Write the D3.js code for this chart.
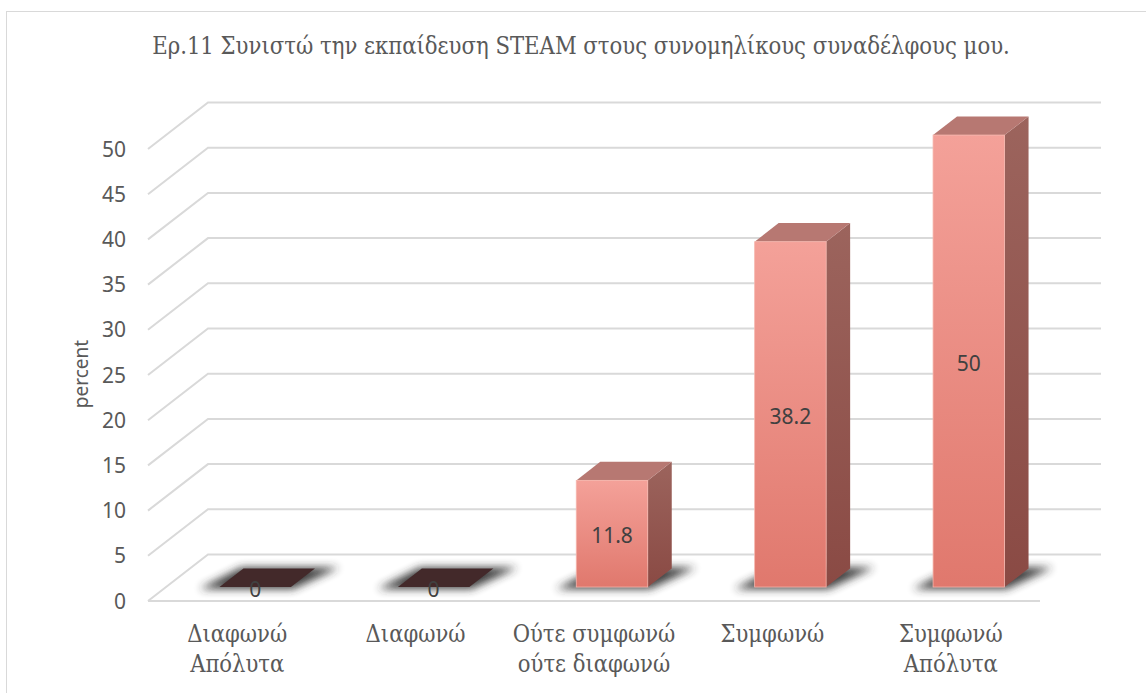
<!DOCTYPE html>
<html>
<head>
<meta charset="utf-8">
<script src="https://cdn.jsdelivr.net/npm/d3@7"></script>
<style>
  html, body { margin: 0; padding: 0; background: #ffffff; }
  svg { display: block; }
</style>
</head>
<body>
<div id="chart"></div>
<script>
// Survey item Ερ.11 — share of respondents per answer (percent)
const titleText = "Ερ.11 Συνιστώ την εκπαίδευση STEAM στους συνομηλίκους συναδέλφους μου.";
const categories = ["Διαφωνώ\nΑπόλυτα", "Διαφωνώ", "Ούτε συμφωνώ\nούτε διαφωνώ", "Συμφωνώ", "Συμφωνώ\nΑπόλυτα"];
const values = [0, 0, 11.8, 38.2, 50];
const yTicks = [0, 5, 10, 15, 20, 25, 30, 35, 40, 45, 50];
const yTitle = "percent";

const W = 1146, H = 693;
const serif = "'DejaVu Serif Condensed', 'DejaVu Serif', 'Liberation Serif', serif";
const sans = "'Noto Sans', 'Open Sans', sans-serif";
const svg = d3.select("#chart").append("svg").attr("width", W).attr("height", H);
const defs = svg.append("defs");

// Oblique projection: the floor recedes up and to the right
const depth = { dx: 60, dy: -46.5 };
const barDepthStart = 0.3, barDepthSize = 0.4;

const y = d3.scaleLinear().domain([0, 50]).range([601, 149]);
const x = d3.scaleBand().domain(categories).range([148, 1040]).paddingInner(0).paddingOuter(0);
const barW = 71.5;

// Shrink a text element's font until it spans the given width
function fitWidth(sel, baseSize, target) {
  sel.attr("font-size", baseSize);
  const w = sel.node().getComputedTextLength();
  if (w > 0) sel.attr("font-size", (baseSize * target / w).toFixed(2));
}

// Outer frame
svg.append("rect")
  .attr("x", 6.5).attr("y", 11.5).attr("width", 1160).attr("height", 720)
  .attr("fill", "none").attr("stroke", "#d9d9d9").attr("stroke-width", 1);

// Title
const title = svg.append("text")
  .attr("x", 581).attr("y", 54)
  .attr("text-anchor", "middle")
  .attr("font-family", serif)
  .attr("fill", "#595959")
  .text(titleText);
fitWidth(title, 22, 858);

// Gridlines: left wall diagonal then along the back wall
const xFront0 = x.range()[0], xFront1 = x.range()[1];
const grid = svg.append("g");
yTicks.forEach(t => {
  const yy = y(t);
  grid.append("path")
    .attr("d", `M${xFront0},${yy} L${xFront0 + depth.dx},${yy + depth.dy} L${xFront1 + depth.dx + 1},${yy + depth.dy}`)
    .attr("fill", "none").attr("stroke", "#d9d9d9").attr("stroke-width", 2);
});
// Front edge of the floor
grid.append("line")
  .attr("x1", xFront0).attr("x2", xFront1).attr("y1", y(0)).attr("y2", y(0))
  .attr("stroke", "#d9d9d9").attr("stroke-width", 2);

// Y tick labels
svg.append("g").selectAll("text").data(yTicks).join("text")
  .attr("x", 126).attr("y", d => y(d))
  .attr("dy", "0.36em")
  .attr("text-anchor", "end")
  .attr("font-family", sans)
  .attr("font-size", 21)
  .attr("fill", "#595959")
  .text(d => d);

// Y axis title
svg.append("text")
  .attr("transform", `translate(88,374) rotate(-90)`)
  .attr("text-anchor", "middle")
  .attr("font-family", sans)
  .attr("font-size", 19)
  .attr("fill", "#595959")
  .text(yTitle);

// Gradients and shadow filter
const gFront = defs.append("linearGradient").attr("id", "gradFront")
  .attr("x1", 0).attr("y1", 0).attr("x2", 0).attr("y2", 1);
gFront.append("stop").attr("offset", "0%").attr("stop-color", "#f4a199");
gFront.append("stop").attr("offset", "100%").attr("stop-color", "#e0786d");
const gSide = defs.append("linearGradient").attr("id", "gradSide")
  .attr("x1", 0).attr("y1", 0).attr("x2", 0).attr("y2", 1);
gSide.append("stop").attr("offset", "0%").attr("stop-color", "#9c645d");
gSide.append("stop").attr("offset", "100%").attr("stop-color", "#8a4a44");

const blur = defs.append("filter").attr("id", "shadowBlur")
  .attr("x", "-50%").attr("y", "-100%").attr("width", "200%").attr("height", "300%");
blur.append("feGaussianBlur").attr("stdDeviation", 4.5);

// Geometry of each bar box
const bars = categories.map((c, i) => {
  const x0 = x(c) + (x.bandwidth() - barW) / 2 + depth.dx * barDepthStart;
  const yb = y(0) + depth.dy * barDepthStart;
  const yt = y(values[i]) + depth.dy * barDepthStart;
  const ddx = depth.dx * barDepthSize, ddy = depth.dy * barDepthSize;
  return { c, v: values[i], x0, x1: x0 + barW, yb, yt, ddx, ddy };
});

// Floor shadows
svg.append("g").selectAll("path").data(bars).join("path")
  .attr("d", b => `M${b.x0 - 20},${b.yb + 2} L${b.x1 + 2},${b.yb + 2} L${b.x1 + b.ddx + 24},${b.yb + b.ddy - 1} L${b.x0 + b.ddx - 2},${b.yb + b.ddy - 1} Z`)
  .attr("fill", "#2a2a2a").attr("opacity", 0.9)
  .attr("filter", "url(#shadowBlur)");

const barG = svg.append("g").selectAll("g").data(bars).join("g");

// Zero-height bars are shown as a flat dark cap
barG.filter(b => b.v === 0).append("path")
  .attr("d", b => `M${b.x0},${b.yb} L${b.x1},${b.yb} L${b.x1 + b.ddx},${b.yb + b.ddy} L${b.x0 + b.ddx},${b.yb + b.ddy} Z`)
  .attr("fill", "#43292a");

const tall = barG.filter(b => b.v > 0);
// Side face
tall.append("path")
  .attr("d", b => `M${b.x1},${b.yb} L${b.x1 + b.ddx},${b.yb + b.ddy} L${b.x1 + b.ddx},${b.yt + b.ddy} L${b.x1},${b.yt} Z`)
  .attr("fill", "url(#gradSide)");
// Top face
tall.append("path")
  .attr("d", b => `M${b.x0},${b.yt} L${b.x1},${b.yt} L${b.x1 + b.ddx},${b.yt + b.ddy} L${b.x0 + b.ddx},${b.yt + b.ddy} Z`)
  .attr("fill", "#b77872");
// Front face
tall.append("rect")
  .attr("x", b => b.x0).attr("y", b => b.yt)
  .attr("width", barW).attr("height", b => b.yb - b.yt)
  .attr("fill", "url(#gradFront)")
  .attr("stroke", "#f6b7ae").attr("stroke-width", 0.8);

// Value labels centred on the front face
svg.append("g").selectAll("text").data(bars).join("text")
  .attr("x", b => (b.x0 + b.x1) / 2)
  .attr("y", b => (b.yt + b.yb) / 2 + 2)
  .attr("dy", "0.36em")
  .attr("text-anchor", "middle")
  .attr("font-family", sans)
  .attr("font-size", 21)
  .attr("fill", "#404040")
  .text(b => b.v);

// Category labels along the front edge
const catG = svg.append("g").selectAll("text").data(categories).join("text")
  .attr("x", c => x(c) + x.bandwidth() / 2)
  .attr("y", 642)
  .attr("text-anchor", "middle")
  .attr("font-family", serif)
  .attr("fill", "#595959");
catG.selectAll("tspan").data(c => c.split("\n").map(s => ({ s, cx: x(c) + x.bandwidth() / 2 }))).join("tspan")
  .attr("x", d => d.cx)
  .attr("dy", (d, i) => i === 0 ? 0 : 30)
  .text(d => d.s);
// Size the category font so "Διαφωνώ" spans about 100px
const probe = svg.append("text").attr("font-family", serif).text("Διαφωνώ");
fitWidth(probe, 24, 100);
catG.attr("font-size", probe.attr("font-size"));
probe.remove();
</script>
</body>
</html>
